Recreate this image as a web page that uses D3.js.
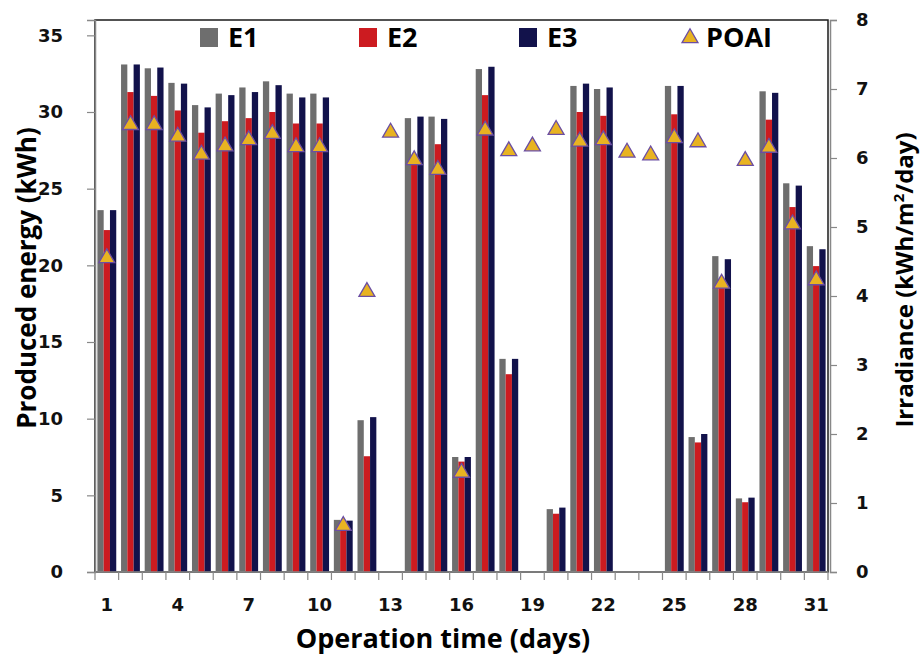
<!DOCTYPE html>
<html>
<head>
<meta charset="utf-8">
<script src="https://cdn.jsdelivr.net/npm/d3@7"></script>
<style>
  html, body { margin: 0; padding: 0; background: #fff; }
  svg { display: block; }
</style>
</head>
<body>
<svg id="chart" width="922" height="658"></svg>
<script>
const days = d3.range(1, 32);
const E1 = [23.6, 33.1, 32.85, 31.9, 30.45, 31.2, 31.6, 32.0, 31.2, 31.2, 3.4, 9.9, 0, 29.6, 29.7, 7.5, 32.8, 13.9, 0, 4.1, 31.7, 31.5, 0, 0, 31.7, 8.8, 20.6, 4.8, 31.35, 25.35, 21.25];
const E2 = [22.3, 31.3, 31.05, 30.1, 28.65, 29.4, 29.6, 30.0, 29.25, 29.25, 3.2, 7.55, 0, 26.9, 27.9, 7.2, 31.1, 12.9, 0, 3.8, 30.0, 29.75, 0, 0, 29.85, 8.45, 19.1, 4.55, 29.5, 23.8, 19.95];
const E3 = [23.6, 33.1, 32.9, 31.85, 30.3, 31.1, 31.3, 31.75, 30.95, 30.95, 3.35, 10.1, 0, 29.7, 29.55, 7.5, 32.95, 13.9, 0, 4.2, 31.85, 31.6, 0, 0, 31.7, 9.0, 20.4, 4.85, 31.25, 25.2, 21.05];
const POAI = [4.55, 6.48, 6.48, 6.31, 6.05, 6.17, 6.26, 6.35, 6.16, 6.16, 0.67, 4.06, 6.37, 5.97, 5.83, 1.44, 6.4, 6.1, 6.17, 6.41, 6.24, 6.26, 6.08, 6.04, 6.29, 6.23, 4.18, 5.96, 6.15, 5.04, 4.23];
const seriesNames = ["E1", "E2", "E3"];
const seriesColors = ["#6e6e6e", "#cc1b20", "#12124b"];
const leftTicks = [0, 5, 10, 15, 20, 25, 30, 35];
const rightTicks = [0, 1, 2, 3, 4, 5, 6, 7, 8];
const xTickDays = [1, 4, 7, 10, 13, 16, 19, 22, 25, 28, 31];

const svg = d3.select("#chart");
const L = 95, R = 828, T = 20, B = 572;
const tickFont = "'DejaVu Sans', Verdana, sans-serif";
const titleFont = "'Open Sans', 'Noto Sans', sans-serif";

const x0 = d3.scaleBand().domain(days).range([L, R]).padding(0);
const bw = x0.bandwidth();
const x1 = d3.scaleBand().domain(seriesNames).range([2.4, bw - 2.4]).padding(0);
const yL = d3.scaleLinear().domain([0, 36]).range([B, T]);
const yR = d3.scaleLinear().domain([0, 8]).range([B, T]);

// plot border
svg.append("rect").attr("x", L).attr("y", T).attr("width", R - L).attr("height", B - T)
  .attr("fill", "none").attr("stroke", "#1a1a1a").attr("stroke-width", 1.5);

// bars
const series = [E1, E2, E3];
const g = svg.append("g");
series.forEach((vals, si) => {
  g.selectAll(null).data(days).enter().append("rect")
    .attr("x", d => x0(d) + x1(seriesNames[si]))
    .attr("y", (d, i) => yL(vals[i]))
    .attr("width", x1.bandwidth())
    .attr("height", (d, i) => B - yL(vals[i]))
    .attr("fill", seriesColors[si]);
});

// axes
const axL = svg.append("g").attr("transform", `translate(${L},0)`)
  .call(d3.axisLeft(yL).tickValues(leftTicks).tickSize(8).tickPadding(24).tickFormat(d3.format("d")));
const axR = svg.append("g").attr("transform", `translate(${R + 2},0)`)
  .call(d3.axisRight(yR).tickValues(rightTicks).tickSize(7).tickPadding(19).tickFormat(d3.format("d")));
const axB = svg.append("g").attr("transform", `translate(0,${B})`)
  .call(d3.axisBottom(x0).tickValues(xTickDays).tickSize(0).tickPadding(26));
// boundary ticks between categories
const bounds = d3.range(0, 32).map(i => L + i * bw);
svg.append("g").selectAll("line").data(bounds).enter().append("line")
  .attr("x1", d => d).attr("x2", d => d).attr("y1", B).attr("y2", B + 8)
  .attr("stroke", "#888").attr("stroke-width", 1.2);

[axL, axR, axB].forEach(a => {
  a.selectAll(".domain").attr("stroke", "#888").attr("stroke-width", 1.5);
  a.selectAll(".tick line").attr("stroke", "#888").attr("stroke-width", 1.2);
  a.selectAll("text").attr("font-family", tickFont).attr("font-weight", "bold")
    .attr("font-size", 18).attr("fill", "#111");
});
axB.select(".domain").remove();
svg.append("line").attr("x1", L).attr("x2", R).attr("y1", B).attr("y2", B)
  .attr("stroke", "#888").attr("stroke-width", 1.5);

// POAI triangles
const tri = d3.symbol().type(d3.symbolTriangle).size(110);
svg.append("g").selectAll("path").data(days).enter().append("path")
  .attr("d", tri)
  .attr("transform", (d, i) => `translate(${x0(d) + bw / 2},${yR(POAI[i])})`)
  .attr("fill", "#e8b321").attr("stroke", "#6b4ea3").attr("stroke-width", 1.3);

// legend
const leg = svg.append("g");
const legItems = [
  { name: "E1", x: 200, color: seriesColors[0] },
  { name: "E2", x: 359, color: seriesColors[1] },
  { name: "E3", x: 519, color: seriesColors[2] }
];
legItems.forEach(it => {
  leg.append("rect").attr("x", it.x).attr("y", 28).attr("width", 18).attr("height", 19).attr("fill", it.color);
  leg.append("text").attr("x", it.x + 28).attr("y", 47).text(it.name)
    .attr("font-family", titleFont).attr("font-weight", "bold").attr("font-size", 27).attr("fill", "#000");
});
leg.append("path").attr("d", d3.symbol().type(d3.symbolTriangle).size(110))
  .attr("transform", "translate(690,38)")
  .attr("fill", "#e8b321").attr("stroke", "#6b4ea3").attr("stroke-width", 1.3);
leg.append("text").attr("x", 706).attr("y", 47).text("POAI")
  .attr("font-family", titleFont).attr("font-weight", "bold").attr("font-size", 27).attr("fill", "#000");

// titles
svg.append("text").attr("transform", "translate(36,278) rotate(-90)").attr("text-anchor", "middle")
  .attr("font-family", titleFont).attr("font-weight", "bold").attr("font-size", 26).attr("fill", "#000")
  .text("Produced energy (kWh)");
const rt = svg.append("text").attr("transform", "translate(913,280) rotate(-90)").attr("text-anchor", "middle")
  .attr("font-family", titleFont).attr("font-weight", "bold").attr("font-size", 24).attr("fill", "#000");
rt.append("tspan").text("Irradiance (kWh/m");
rt.append("tspan").text("2").attr("font-size", 15).attr("dy", -9);
rt.append("tspan").text("/day)").attr("dy", 9);
svg.append("text").attr("x", 443).attr("y", 648).attr("text-anchor", "middle")
  .attr("font-family", titleFont).attr("font-weight", "bold").attr("font-size", 27).attr("fill", "#000")
  .text("Operation time (days)");
</script>
</body>
</html>
